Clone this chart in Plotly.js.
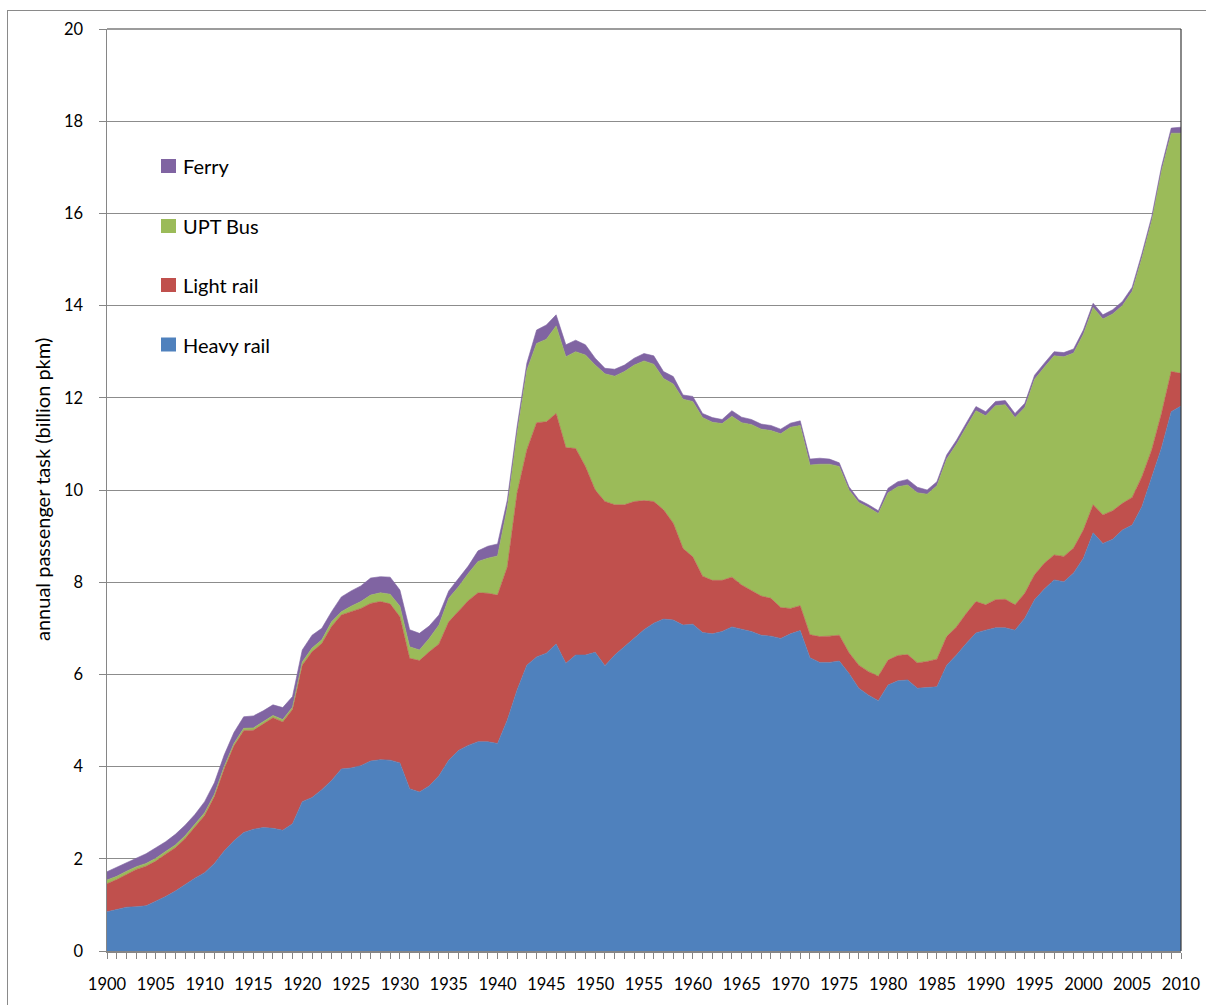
<!DOCTYPE html>
<html>
<head>
<meta charset="utf-8">
<script src="https://cdn.plot.ly/plotly-3.0.1.min.js"></script>
<style>
  html, body { margin: 0; padding: 0; background: #fff; }
  #frame { position: absolute; left: 7px; top: 10px; width: 1210px; height: 1010px; border: 1px solid #8a8a8a; box-sizing: border-box; }
  #chart { position: absolute; left: 0; top: 0; width: 1206px; height: 1005px; }
</style>
</head>
<body>
<div id="frame"></div>
<div id="chart"></div>
<script>
// Years 1900..2010
const years = [];
for (let y = 1900; y <= 2010; y++) years.push(y);

const heavyRail = [
  0.85, 0.90, 0.95, 0.96, 0.98, 1.08, 1.18, 1.30, 1.45, 1.58,
  1.70, 1.90, 2.17, 2.39, 2.57, 2.64, 2.68, 2.66, 2.62, 2.76,
  3.24, 3.33, 3.50, 3.70, 3.95, 3.97, 4.02, 4.12, 4.15, 4.14,
  4.08, 3.52, 3.45, 3.58, 3.80, 4.14, 4.35, 4.46, 4.54, 4.54,
  4.50, 5.01, 5.66, 6.20, 6.38, 6.46, 6.66, 6.24, 6.42, 6.42,
  6.48, 6.19, 6.42, 6.60, 6.80, 6.97, 7.11, 7.20, 7.18, 7.07,
  7.09, 6.91, 6.88, 6.93, 7.03, 6.98, 6.93, 6.85, 6.83, 6.78,
  6.88, 6.95, 6.36, 6.26, 6.26, 6.29, 6.02, 5.70, 5.55, 5.43,
  5.77, 5.86, 5.88, 5.70, 5.72, 5.73, 6.20, 6.42, 6.67, 6.90,
  6.96, 7.01, 7.01, 6.96, 7.22, 7.62, 7.85, 8.05, 8.01, 8.20,
  8.52, 9.07, 8.84, 8.93, 9.13, 9.24, 9.64, 10.29, 10.91, 11.70,
  11.82
];

const lightRail = [
  0.61, 0.65, 0.71, 0.81, 0.86, 0.87, 0.92, 0.94, 0.99, 1.10,
  1.24, 1.45, 1.78, 2.06, 2.21, 2.15, 2.24, 2.40, 2.35, 2.48,
  2.96, 3.16, 3.17, 3.34, 3.34, 3.39, 3.41, 3.42, 3.43, 3.39,
  3.17, 2.83, 2.85, 2.91, 2.86, 3.00, 3.01, 3.14, 3.23, 3.22,
  3.22, 3.32, 4.27, 4.67, 5.08, 5.02, 5.00, 4.68, 4.48, 4.09,
  3.52, 3.56, 3.26, 3.08, 2.95, 2.80, 2.64, 2.37, 2.10, 1.66,
  1.46, 1.22, 1.16, 1.11, 1.08, 0.96, 0.89, 0.85, 0.82, 0.67,
  0.55, 0.54, 0.50, 0.56, 0.57, 0.56, 0.45, 0.50, 0.51, 0.53,
  0.54, 0.55, 0.55, 0.55, 0.56, 0.60, 0.62, 0.61, 0.65, 0.68,
  0.55, 0.61, 0.62, 0.55, 0.54, 0.54, 0.56, 0.54, 0.55, 0.54,
  0.61, 0.61, 0.62, 0.62, 0.58, 0.60, 0.65, 0.58, 0.75, 0.87,
  0.71
];

const uptBus = [
  0.08, 0.07, 0.07, 0.06, 0.06, 0.06, 0.06, 0.06, 0.06, 0.06,
  0.06, 0.05, 0.05, 0.05, 0.05, 0.05, 0.05, 0.05, 0.05, 0.05,
  0.07, 0.08, 0.08, 0.10, 0.07, 0.12, 0.15, 0.18, 0.19, 0.21,
  0.23, 0.25, 0.23, 0.29, 0.41, 0.51, 0.54, 0.59, 0.68, 0.76,
  0.85, 1.29, 1.30, 1.73, 1.72, 1.79, 1.90, 1.97, 2.10, 2.42,
  2.71, 2.77, 2.79, 2.89, 2.96, 3.03, 2.98, 2.85, 3.02, 3.24,
  3.37, 3.44, 3.43, 3.40, 3.49, 3.52, 3.60, 3.62, 3.64, 3.77,
  3.93, 3.91, 3.68, 3.74, 3.73, 3.66, 3.53, 3.53, 3.56, 3.53,
  3.63, 3.66, 3.68, 3.69, 3.63, 3.76, 3.85, 3.96, 4.04, 4.14,
  4.10, 4.21, 4.22, 4.06, 4.03, 4.24, 4.25, 4.32, 4.33, 4.23,
  4.25, 4.28, 4.25, 4.27, 4.29, 4.47, 4.75, 4.97, 5.26, 5.17,
  5.21
];

const ferry = [
  0.18, 0.20, 0.19, 0.19, 0.21, 0.23, 0.21, 0.23, 0.23, 0.22,
  0.24, 0.25, 0.25, 0.24, 0.25, 0.26, 0.24, 0.23, 0.26, 0.23,
  0.26, 0.28, 0.25, 0.22, 0.32, 0.33, 0.34, 0.37, 0.35, 0.37,
  0.35, 0.37, 0.36, 0.27, 0.22, 0.16, 0.19, 0.16, 0.23, 0.26,
  0.26, 0.16, 0.14, 0.15, 0.29, 0.31, 0.24, 0.26, 0.25, 0.22,
  0.15, 0.12, 0.15, 0.14, 0.15, 0.16, 0.18, 0.15, 0.16, 0.09,
  0.11, 0.09, 0.10, 0.09, 0.12, 0.12, 0.11, 0.11, 0.11, 0.10,
  0.09, 0.10, 0.13, 0.13, 0.11, 0.08, 0.07, 0.06, 0.06, 0.06,
  0.10, 0.11, 0.12, 0.12, 0.09, 0.09, 0.09, 0.09, 0.09, 0.09,
  0.09, 0.09, 0.09, 0.09, 0.09, 0.09, 0.09, 0.09, 0.09, 0.09,
  0.09, 0.09, 0.09, 0.09, 0.09, 0.09, 0.09, 0.09, 0.09, 0.11,
  0.13
];

const seriesNames = ["Heavy rail", "Light rail", "UPT Bus", "Ferry"];
const seriesColors = ["#4F81BD", "#C0504D", "#9BBB59", "#8064A2"];
const seriesData = [heavyRail, lightRail, uptBus, ferry];
const yTitle = "annual passenger task (billion pkm)";

const xTickVals = [];
for (let y = 1900; y <= 2010; y += 5) xTickVals.push(y);

const traces = seriesData.map((vals, i) => ({
  type: "scatter",
  mode: "lines",
  x: years,
  y: vals,
  name: seriesNames[i],
  stackgroup: "one",
  line: { width: 0.6, color: seriesColors[i] },
  fillcolor: seriesColors[i],
  showlegend: false,
  hoverinfo: "x+y+name"
}));

// Plot-area geometry for legend placement (paper coords)
const PL = 107, PR = 1181, PT = 29, PB = 951;
const px = v => (v - PL) / (PR - PL);
const py = v => (PB - v) / (PB - PT);

const FONT = "Lato, 'Open Sans', sans-serif";

const legendRows = [
  { name: "Ferry", color: "#8064A2", cy: 166 },
  { name: "UPT Bus", color: "#9BBB59", cy: 226 },
  { name: "Light rail", color: "#C0504D", cy: 285 },
  { name: "Heavy rail", color: "#4F81BD", cy: 344.5 }
];

const shapes = [
  { type: "line", xref: "paper", yref: "paper", x0: 0, x1: 1, y0: 1, y1: 1, line: { color: "#3a3a3a", width: 1.2 } },
  { type: "line", xref: "paper", yref: "paper", x0: 1, x1: 1, y0: 0, y1: 1, line: { color: "#3a3a3a", width: 1.2 } }
];
const annotations = [
  {
    xref: "paper", yref: "paper", x: px(42), y: py(490),
    xanchor: "center", yanchor: "middle", textangle: -90, showarrow: false,
    text: yTitle, font: { family: FONT, size: 20, color: "#000" }
  }
];
legendRows.forEach(r => {
  shapes.push({
    type: "rect", xref: "paper", yref: "paper",
    x0: px(161), x1: px(176), y0: py(r.cy + 7), y1: py(r.cy - 7),
    fillcolor: r.color, line: { width: 0 }
  });
  annotations.push({
    xref: "paper", yref: "paper", x: px(181), y: py(r.cy),
    xanchor: "left", yanchor: "middle", showarrow: false,
    text: r.name, font: { family: FONT, size: 20, color: "#000" }
  });
});

const layout = {
  width: 1206,
  height: 1005,
  margin: { l: PL, r: 1206 - PR, t: PT, b: 1005 - PB, pad: 0 },
  paper_bgcolor: "rgba(0,0,0,0)",
  plot_bgcolor: "#ffffff",
  font: { family: FONT, size: 16, color: "#000" },
  showlegend: false,
  xaxis: {
    range: [1900, 2010],
    tickmode: "array",
    tickvals: xTickVals,
    ticktext: xTickVals.map(String),
    ticks: "outside",
    ticklen: 6,
    tickwidth: 1,
    tickcolor: "#868686",
    minor: { dtick: 1, ticks: "outside", ticklen: 6, tickwidth: 1, tickcolor: "#868686", showgrid: false },
    showline: true,
    linecolor: "#868686",
    linewidth: 1.5,
    showgrid: false,
    zeroline: false,
    ticklabelstandoff: 12,
    tickfont: { size: 16.5 }
  },
  yaxis: {
    range: [0, 20],
    dtick: 2,
    tick0: 0,
    ticks: "outside",
    ticklen: 7,
    tickwidth: 1,
    tickcolor: "#868686",
    showline: true,
    linecolor: "#868686",
    linewidth: 1.5,
    showgrid: true,
    gridcolor: "#8c8c8c",
    gridwidth: 1,
    zeroline: false,
    ticklabelstandoff: 12,
    tickfont: { size: 16.5 }
  },
  shapes: shapes,
  annotations: annotations
};

Plotly.newPlot("chart", traces, layout, { displayModeBar: false, staticPlot: true });
</script>
</body>
</html>
